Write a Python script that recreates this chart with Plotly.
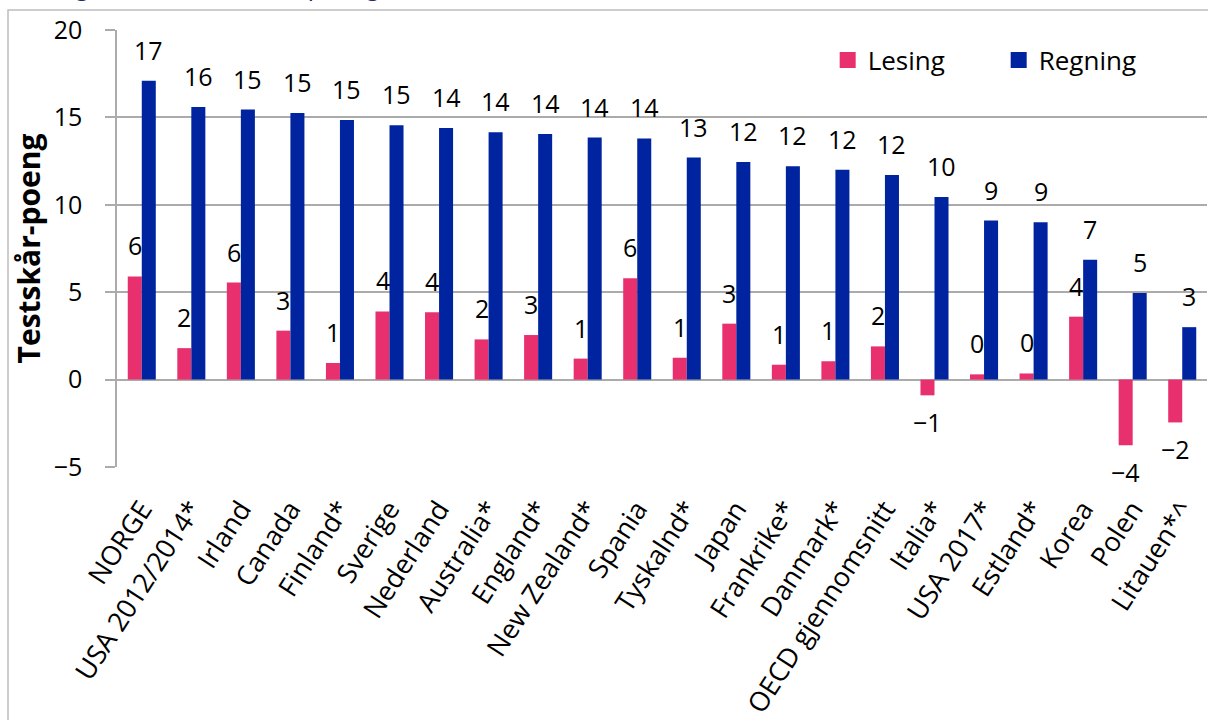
import plotly.graph_objects as go

# Change in test score points, reading vs. numeracy
countries = [
    "NORGE", "USA 2012/2014*", "Irland", "Canada", "Finland*", "Sverige",
    "Nederland", "Australia*", "England*", "New Zealand*", "Spania",
    "Tyskalnd*", "Japan", "Frankrike*", "Danmark*", "OECD gjennomsnitt",
    "Italia*", "USA 2017*", "Estland*", "Korea", "Polen", "Litauen*^",
]
lesing = [5.9, 1.8, 5.55, 2.8, 0.95, 3.9, 3.85, 2.3, 2.55, 1.2, 5.8,
          1.25, 3.2, 0.85, 1.05, 1.9, -0.9, 0.3, 0.35, 3.6, -3.75, -2.45]
regning = [17.1, 15.6, 15.45, 15.25, 14.85, 14.55, 14.4, 14.15, 14.05, 13.85, 13.8,
           12.7, 12.45, 12.2, 12.0, 11.7, 10.45, 9.1, 9.0, 6.85, 4.95, 3.0]
y_ticks = [-5, 0, 5, 10, 15, 20]

PINK = "#E8306F"
BLUE = "#00249F"
GRID = "#ABABAB"
FONT = "Open Sans"

fig = go.Figure()
fig.add_trace(go.Bar(name="Lesing", x=countries, y=lesing, marker_color=PINK,
                     marker_line_width=0, showlegend=False))
fig.add_trace(go.Bar(name="Regning", x=countries, y=regning, marker_color=BLUE,
                     marker_line_width=0, showlegend=False))

# Legend entries with larger square swatches
for name, col in (("Lesing", PINK), ("Regning", BLUE)):
    fig.add_trace(go.Scatter(x=[None], y=[None], mode="markers", name=name,
                             marker=dict(symbol="square", size=19, color=col)))

# Value labels just beyond the end of each bar
annotations = []
for series, shift in ((lesing, -7), (regning, 7)):
    for c, v in zip(countries, series):
        annotations.append(dict(
            x=c, y=v, xref="x", yref="y", text=f"{v:.0f}".replace("-", "−"),
            showarrow=False, xshift=shift,
            yanchor="bottom" if v >= 0 else "top",
            yshift=12 if v >= 0 else -8,
            font=dict(family=FONT, size=25, color="#000000"),
        ))

# Heading above the chart frame (mostly outside the page)
annotations.append(dict(
    x=-0.107, y=1.057, xref="paper", yref="paper", xanchor="left", yanchor="bottom",
    text="<i>Endring 2012–2017, målt i poeng</i>", showarrow=False,
    font=dict(family=FONT, size=26, color="#1F2A6B"),
))

fig.update_layout(
    width=1208, height=720,
    margin=dict(l=117, r=1, t=30, b=253),
    paper_bgcolor="white", plot_bgcolor="white",
    barmode="group", bargap=0.434, bargroupgap=0,
    font=dict(family=FONT, size=25, color="#000000"),
    legend=dict(orientation="h", x=0.652, y=0.985, xanchor="left", yanchor="top",
                font=dict(family=FONT, size=26), entrywidth=126,
                bgcolor="rgba(0,0,0,0)", itemsizing="trace"),
    annotations=annotations,
    shapes=[dict(type="rect", xref="paper", yref="paper",
                 x0=-0.1, x1=1.2, y0=-1.0, y1=1.0458,
                 line=dict(color="#BDBDBD", width=1.5), layer="below")],
    xaxis=dict(
        type="category", categoryorder="array", categoryarray=countries,
        range=[-0.5, len(countries) - 0.5],
        tickangle=-57, ticks="", showline=False, showgrid=False,
        ticklabelstandoff=20,
        tickfont=dict(family=FONT, size=27, color="#000000"),
    ),
    xaxis2=dict(
        matches="x", overlaying="x", anchor="free", position=0.2,
        type="category", categoryorder="array", categoryarray=countries,
        showticklabels=False, ticks="outside", tickson="boundaries",
        ticklen=10, tickcolor=GRID, tickwidth=1.5,
        showline=True, linecolor=GRID, linewidth=1.5, showgrid=False,
    ),
    yaxis=dict(
        range=[-5, 20], tickvals=y_ticks, ticktext=[str(t).replace("-", "−") for t in y_ticks],
        showgrid=True, gridcolor=GRID, gridwidth=1.5,
        zeroline=True, zerolinecolor=GRID, zerolinewidth=1.5,
        showline=True, linecolor=GRID, linewidth=1.5,
        ticks="outside", ticklen=10, tickcolor=GRID, tickwidth=1.5,
        ticklabelstandoff=18,
        tickfont=dict(family=FONT, size=25, color="#000000"),
        title=dict(text="<b>Testskår-poeng</b>", standoff=4,
                   font=dict(family=FONT, size=30, color="#000000")),
    ),
)

fig.write_html("out.html")
